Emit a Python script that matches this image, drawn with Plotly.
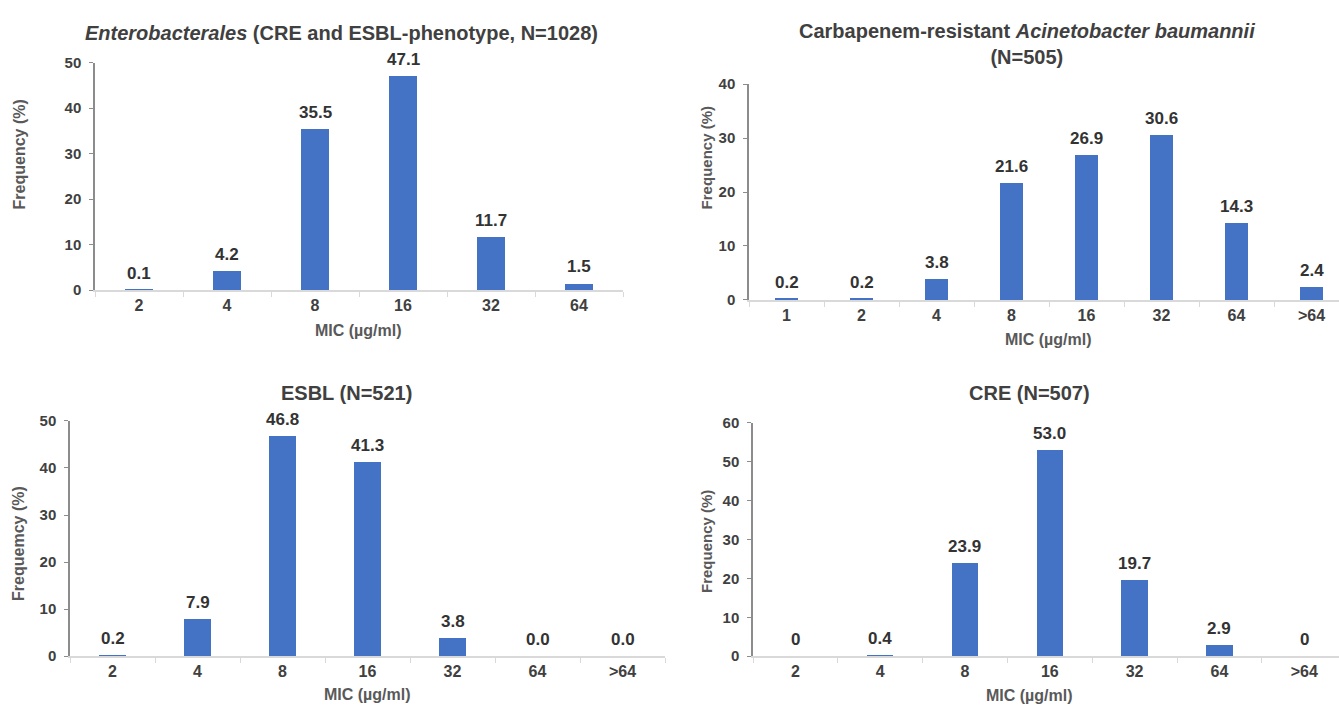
import plotly.graph_objects as go

# ---- data -------------------------------------------------------------
mic_entero = ["2", "4", "8", "16", "32", "64"]
freq_entero = [0.1, 4.2, 35.5, 47.1, 11.7, 1.5]

mic_crab = ["1", "2", "4", "8", "16", "32", "64", ">64"]
freq_crab = [0.2, 0.2, 3.8, 21.6, 26.9, 30.6, 14.3, 2.4]

mic_esbl = ["2", "4", "8", "16", "32", "64", ">64"]
freq_esbl = [0.2, 7.9, 46.8, 41.3, 3.8, 0.0, 0.0]

mic_cre = ["2", "4", "8", "16", "32", "64", ">64"]
freq_cre = [0, 0.4, 23.9, 53.0, 19.7, 2.9, 0]

titles = [
    "<b><i>Enterobacterales</i> (CRE and ESBL-phenotype, N=1028)</b>",
    "<b>Carbapenem-resistant <i>Acinetobacter baumannii</i><br>(N=505)</b>",
    "<b>ESBL (N=521)</b>",
    "<b>CRE (N=507)</b>",
]
y_titles = ["Frequency (%)", "Frequency (%)", "Frequemcy (%)", "Frequency (%)"]
x_title = "MIC (µg/ml)"
y_max = [50, 40, 50, 60]

# ---- styling / layout helpers ---------------------------------------
W, H = 1339, 713
BAR = "#4472C4"
FONT = "Liberation Sans, Arial, sans-serif"
DARK = "#404040"


def px(x):
    return x / W


def py(y):
    return 1 - y / H


panels = [
    dict(cats=mic_entero, vals=freq_entero, xs=(95, 623), ys=(55, 288), xend=None,
         tpos=(341, 25), ytpos=(19, 149), xtpos=(358, 329), zero_int=False, ytsize=16),
    dict(cats=mic_crab, vals=freq_crab, xs=(749, 1339), ys=(77, 298), xend=-0.5 + 590 / 75,
         tpos=(1027, 36), ytpos=(706, 152), xtpos=(1048, 339), zero_int=False, ytsize=15),
    dict(cats=mic_esbl, vals=freq_esbl, xs=(70, 665), ys=(422, 663), xend=None,
         tpos=(346, 393), ytpos=(19, 548), xtpos=(367, 702), zero_int=False, ytsize=16),
    dict(cats=mic_cre, vals=freq_cre, xs=(753, 1339), ys=(424, 663), xend=-0.5 + 586 / 84.8,
         tpos=(1029, 393), ytpos=(706, 545), xtpos=(1029, 703), zero_int=True, ytsize=15),
]

fig = go.Figure()
annotations = []
layout = {}

for i, p in enumerate(panels):
    n = i + 1
    xa = "x" if n == 1 else f"x{n}"
    ya = "y" if n == 1 else f"y{n}"
    fig.add_trace(go.Bar(
        x=p["cats"], y=p["vals"], xaxis=xa, yaxis=ya,
        marker=dict(color=BAR, line=dict(width=0)),
        width=0.31, showlegend=False, hoverinfo="x+y",
    ))

    # value labels above each bar (category index as x position)
    for j, v in enumerate(p["vals"]):
        if p["zero_int"] and v == 0:
            label = "0"
        else:
            label = f"{v:.1f}"
        annotations.append(dict(
            x=j, y=v, xref=xa, yref=ya, text=f"<b>{label}</b>",
            showarrow=False, yanchor="bottom", yshift=5,
            font=dict(family=FONT, size=17, color="#333333"),
        ))

    xend = p["xend"] if p["xend"] is not None else len(p["cats"]) - 0.5
    layout[f"xaxis{'' if n == 1 else n}"] = dict(
        domain=[px(p["xs"][0]), px(p["xs"][1])], anchor=ya,
        type="category", range=[-0.5, xend],
        showline=True, linecolor="#d9d9d9", linewidth=2,
        ticks="outside", tickson="boundaries", ticklen=5, tickcolor="#d9d9d9",
        showgrid=False, zeroline=False,
        tickfont=dict(family=FONT, size=16, color=DARK, weight="bold"),
    )
    layout[f"yaxis{'' if n == 1 else n}"] = dict(
        domain=[py(p["ys"][1]), py(p["ys"][0])], anchor=xa,
        range=[0, y_max[i]], dtick=10,
        showline=True, linecolor="#8c8c8c", linewidth=1.5,
        ticks="outside", ticklen=4, tickcolor="#8c8c8c",
        ticklabelstandoff=5,
        showgrid=False, zeroline=False,
        tickfont=dict(family=FONT, size=15, color=DARK, weight="bold"),
    )

    # panel title
    annotations.append(dict(
        x=px(p["tpos"][0]), y=py(p["tpos"][1]), xref="paper", yref="paper",
        text=titles[i], showarrow=False, xanchor="center", yanchor="middle",
        font=dict(family=FONT, size=20, color=DARK),
    ))
    # y-axis title
    annotations.append(dict(
        x=px(p["ytpos"][0]), y=py(p["ytpos"][1]), xref="paper", yref="paper",
        text=f"<b>{y_titles[i]}</b>", showarrow=False, textangle=-90,
        xanchor="center", yanchor="middle",
        font=dict(family=FONT, size=p["ytsize"], color="#595959"),
    ))
    # x-axis title
    annotations.append(dict(
        x=px(p["xtpos"][0]), y=py(p["xtpos"][1]), xref="paper", yref="paper",
        text=f"<b>{x_title}</b>", showarrow=False,
        xanchor="center", yanchor="middle",
        font=dict(family=FONT, size=16, color="#595959"),
    ))

fig.update_layout(
    width=W, height=H,
    margin=dict(l=0, r=0, t=0, b=0),
    paper_bgcolor="white", plot_bgcolor="white",
    bargap=0.0,
    annotations=annotations,
    **layout,
)

fig.write_html("out.html")
